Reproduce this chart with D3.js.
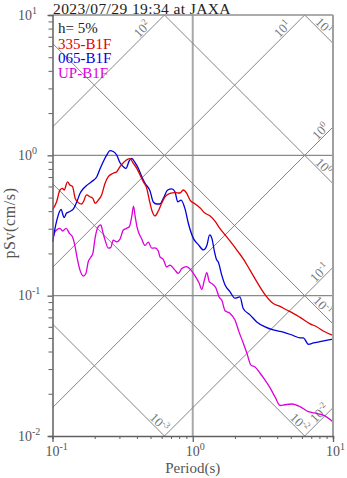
<!DOCTYPE html>
<html>
<head>
<meta charset="utf-8">
<script src="https://cdn.jsdelivr.net/npm/d3@7"></script>
<style>
  html, body { margin: 0; padding: 0; background: #fff; }
  svg { display: block; font-family: "Liberation Serif", "Times New Roman", serif; }
</style>
</head>
<body>
<svg id="chart" width="347" height="478"></svg>
<script>
// ---- data -------------------------------------------------------------
const chartTitle = "2023/07/29 19:34 at JAXA";
const dampingText = "h= 5%";
const seriesNames = ["335-B1F", "065-B1F", "UP-B1F"];

// pseudo velocity response spectra, period (s) vs pSv (cm/s)
const periods335 = [0.100,0.107,0.113,0.118,0.121,0.128,0.133,0.139,0.145,0.153,0.162,0.166,0.175,0.185,0.194,0.201,0.212,0.224,0.237,0.250,0.271,0.287,0.303,0.320,0.342,0.357,0.377,0.399,0.421,0.444,0.470,0.490,0.510,0.538,0.568,0.601,0.634,0.688,0.747,0.811,0.856,0.906,0.956,1.04,1.13,1.22,1.33,1.44,1.56,1.70,1.90,2.11,2.29,2.56,3.02,3.37,3.56,3.75,4.19,4.68,4.94,5.82,6.86,7.65,8.53,10.0];
const psv335 = [0.408,0.467,0.566,0.582,0.566,0.646,0.615,0.598,0.494,0.460,0.450,0.467,0.522,0.507,0.494,0.455,0.480,0.522,0.632,0.704,0.745,0.765,0.830,0.886,0.937,0.946,0.877,0.808,0.724,0.649,0.582,0.480,0.408,0.370,0.401,0.457,0.505,0.536,0.543,0.539,0.566,0.536,0.480,0.450,0.421,0.388,0.370,0.340,0.302,0.271,0.236,0.205,0.183,0.152,0.115,0.098,0.092,0.088,0.084,0.079,0.077,0.070,0.063,0.060,0.056,0.052];

const periods065 = [0.100,0.107,0.115,0.121,0.126,0.133,0.141,0.149,0.157,0.166,0.175,0.190,0.207,0.218,0.230,0.244,0.257,0.271,0.287,0.303,0.320,0.334,0.353,0.367,0.388,0.409,0.433,0.457,0.496,0.523,0.553,0.584,0.617,0.663,0.708,0.747,0.781,0.825,0.881,0.930,1.01,1.10,1.19,1.26,1.32,1.37,1.43,1.48,1.52,1.61,1.70,1.84,2.00,2.17,2.29,2.56,2.86,3.28,3.75,4.42,5.21,5.82,6.14,6.69,7.24,8.08,10.0];
const psv065 = [0.241,0.340,0.411,0.361,0.388,0.398,0.415,0.465,0.535,0.580,0.610,0.649,0.704,0.799,0.901,1.006,1.079,1.065,1.006,0.886,0.830,0.808,0.916,0.952,0.886,0.808,0.704,0.632,0.557,0.465,0.450,0.450,0.494,0.566,0.576,0.550,0.467,0.480,0.415,0.328,0.256,0.230,0.212,0.228,0.271,0.255,0.205,0.180,0.174,0.140,0.119,0.107,0.096,0.098,0.081,0.073,0.065,0.060,0.057,0.055,0.052,0.050,0.050,0.045,0.046,0.047,0.049];

const periodsUP = [0.100,0.104,0.108,0.113,0.118,0.125,0.132,0.139,0.145,0.150,0.157,0.166,0.173,0.180,0.187,0.194,0.201,0.212,0.221,0.228,0.237,0.250,0.260,0.271,0.287,0.303,0.320,0.338,0.353,0.367,0.378,0.388,0.402,0.433,0.457,0.482,0.510,0.538,0.568,0.584,0.617,0.652,0.688,0.747,0.789,0.834,0.906,0.972,1.04,1.11,1.16,1.21,1.26,1.31,1.38,1.46,1.54,1.61,1.70,1.84,2.00,2.14,2.29,2.43,2.60,2.78,3.02,3.28,3.56,3.86,4.19,4.55,5.08,5.82,6.67,7.65,8.77,10.0];
const psvUP = [0.245,0.284,0.296,0.302,0.289,0.302,0.278,0.262,0.223,0.185,0.152,0.138,0.144,0.175,0.187,0.200,0.256,0.310,0.319,0.286,0.249,0.218,0.220,0.249,0.242,0.253,0.294,0.302,0.310,0.365,0.435,0.370,0.304,0.253,0.228,0.241,0.218,0.219,0.208,0.189,0.181,0.160,0.165,0.152,0.144,0.156,0.161,0.152,0.138,0.123,0.111,0.129,0.146,0.126,0.121,0.114,0.098,0.093,0.078,0.075,0.067,0.055,0.046,0.039,0.032,0.031,0.028,0.025,0.022,0.019,0.0165,0.0167,0.0169,0.0162,0.0149,0.0145,0.0139,0.0126];

// constant spectral displacement (cm) and acceleration (cm/s^2) guides
const displacementLevels = [0.001, 0.01, 0.1, 1, 10];
const accelerationLevels = [0.01, 0.1, 1, 10, 100];

const periodDomain = [0.1, 10];
const psvDomain = [0.01, 10];
const periodMajorTicks = [0.1, 1, 10];
const psvMajorTicks = [0.01, 0.1, 1, 10];
const gridPeriods = [1];
const gridPsv = [0.1, 1];

// ---- layout -----------------------------------------------------------
const plotL = 52.5, plotR = 333, plotT = 15, plotB = 436;
const colors = ["#e00000", "#0000dc", "#dc00dc"];
const guideColor = "#858585";

const svg = d3.select("#chart");
const x = d3.scaleLog().domain(periodDomain).range([plotL, plotR]);
const y = d3.scaleLog().domain(psvDomain).range([plotB, plotT]);

// clip for plot content
svg.append("defs").append("clipPath").attr("id", "plotClip")
  .append("rect").attr("x", plotL).attr("y", plotT)
  .attr("width", plotR - plotL).attr("height", plotB - plotT);

const guides = svg.append("g").attr("clip-path", "url(#plotClip)");

// grid lines
gridPeriods.forEach(t => {
  guides.append("line").attr("x1", x(t)).attr("x2", x(t)).attr("y1", plotT).attr("y2", plotB)
    .attr("stroke", "#a8a8a8").attr("stroke-width", 2);
});
gridPsv.forEach(v => {
  guides.append("line").attr("x1", plotL).attr("x2", plotR).attr("y1", y(v)).attr("y2", y(v))
    .attr("stroke", "#8a8a8a").attr("stroke-width", 1.4);
});

// diagonal guides
const twoPi = 2 * Math.PI;
const guideLines = [];
displacementLevels.forEach(d => {
  const t0 = Math.max(periodDomain[0], twoPi * d / psvDomain[1]);
  const t1 = Math.min(periodDomain[1], twoPi * d / psvDomain[0]);
  if (t0 < t1) guideLines.push({kind: "disp", level: d,
    p0: [x(t0), y(twoPi * d / t0)], p1: [x(t1), y(twoPi * d / t1)],
    exit: t1 >= periodDomain[1] * 0.9999 ? "right" : "bottom"});
});
accelerationLevels.forEach(a => {
  const t0 = Math.max(periodDomain[0], twoPi * psvDomain[0] / a);
  const t1 = Math.min(periodDomain[1], twoPi * psvDomain[1] / a);
  if (t0 < t1) guideLines.push({kind: "acc", level: a,
    p0: [x(t0), y(a * t0 / twoPi)], p1: [x(t1), y(a * t1 / twoPi)],
    exit: t1 >= periodDomain[1] * 0.9999 ? "right" : "top"});
});

guideLines.forEach(g => {
  guides.append("line").attr("x1", g.p0[0]).attr("y1", g.p0[1])
    .attr("x2", g.p1[0]).attr("y2", g.p1[1])
    .attr("stroke", guideColor).attr("stroke-width", 1);
});

// guide labels, laid along each line near its end
const backOff = {acc: {top: 17, right: 3}, disp: {right: 10, bottom: 3}};
guideLines.forEach(g => {
  const dx = g.p1[0] - g.p0[0], dy = g.p1[1] - g.p0[1];
  const len = Math.hypot(dx, dy);
  const ux = dx / len, uy = dy / len;
  const s = backOff[g.kind][g.exit];
  const off = 1.5;
  const px = g.p1[0] - ux * s + uy * off;
  const py = g.p1[1] - uy * s - ux * off;
  const ang = Math.atan2(uy, ux) * 180 / Math.PI;
  const exp = Math.round(Math.log10(g.level));
  const t = svg.append("text")
    .attr("transform", `translate(${px},${py}) rotate(${ang})`)
    .attr("text-anchor", "end").attr("font-size", 13).attr("fill", "#777");
  t.append("tspan").text("10");
  t.append("tspan").attr("font-size", 9).attr("dy", -5).text(exp);
});

// spectra
const series = [
  {name: seriesNames[0], periods: periods335, values: psv335, color: colors[0]},
  {name: seriesNames[1], periods: periods065, values: psv065, color: colors[1]},
  {name: seriesNames[2], periods: periodsUP, values: psvUP, color: colors[2]}
];
const line = d3.line().x(d => x(d[0])).y(d => y(d[1])).curve(d3.curveMonotoneX);
const plot = svg.append("g").attr("clip-path", "url(#plotClip)");
series.slice().reverse().forEach(s => {
  plot.append("path").datum(d3.zip(s.periods, s.values))
    .attr("d", line).attr("fill", "none")
    .attr("stroke", s.color).attr("stroke-width", 1.3)
    .attr("stroke-linejoin", "round");
});

// frame: top and right in light gray, axes in darker gray
svg.append("line").attr("x1", plotL).attr("x2", plotR).attr("y1", plotT).attr("y2", plotT)
  .attr("stroke", "#909090").attr("stroke-width", 1.5);
svg.append("line").attr("x1", plotR).attr("x2", plotR).attr("y1", plotT).attr("y2", plotB)
  .attr("stroke", "#a0a0a0").attr("stroke-width", 2);

// axes
const minorTicks = (lo, hi) => {
  const out = [];
  for (let e = Math.round(Math.log10(lo)); e < Math.round(Math.log10(hi)); e++)
    for (let k = 1; k <= 9; k++) out.push(k * Math.pow(10, e));
  out.push(hi);
  return out;
};
const xAxis = d3.axisBottom(x).tickValues(minorTicks(...periodDomain))
  .tickSize(3).tickFormat("");
const yAxis = d3.axisLeft(y).tickValues(minorTicks(...psvDomain))
  .tickSize(4).tickFormat("");

const gx = svg.append("g").attr("transform", `translate(0,${plotB})`).call(xAxis);
const gy = svg.append("g").attr("transform", `translate(${plotL},0)`).call(yAxis);
[gx, gy].forEach(g => {
  g.select(".domain").attr("stroke", "#606060").attr("stroke-width", 1.5);
  g.selectAll(".tick line").attr("stroke", "#606060");
});
gx.selectAll(".tick line").filter(d => periodMajorTicks.some(m => Math.abs(d / m - 1) < 1e-6))
  .attr("y2", 6).attr("stroke-width", 1.3);
gy.selectAll(".tick line").filter(d => psvMajorTicks.some(m => Math.abs(d / m - 1) < 1e-6))
  .attr("x2", -5).attr("stroke-width", 1.3);

// tick labels as 10^n
const labelColor = "#555";
periodMajorTicks.forEach(t => {
  const e = Math.round(Math.log10(t));
  const tx = svg.append("text").attr("x", x(t) - 7).attr("y", 456)
    .attr("font-size", 14).attr("fill", labelColor);
  tx.append("tspan").text("10");
  tx.append("tspan").attr("font-size", 10).attr("dy", -6).text(e);
});
psvMajorTicks.forEach(v => {
  const e = Math.round(Math.log10(v));
  const tx = svg.append("text").attr("x", 18).attr("y", y(v) + 4.5)
    .attr("font-size", 14).attr("fill", labelColor);
  tx.append("tspan").text("10");
  tx.append("tspan").attr("font-size", 10).attr("dy", -6).text(e);
});

// axis titles
svg.append("text").attr("x", (plotL + plotR) / 2).attr("y", 472.5)
  .attr("text-anchor", "middle").attr("font-size", 15).attr("fill", labelColor)
  .text("Period(s)");
svg.append("text").attr("transform", `translate(15,223) rotate(-90)`)
  .attr("text-anchor", "middle").attr("font-size", 16).attr("fill", labelColor)
  .attr("letter-spacing", 0.6)
  .text("pSv(cm/s)");

// title
svg.append("text").attr("x", 53).attr("y", 13.8).attr("font-size", 15.5)
  .attr("letter-spacing", 0.4).attr("fill", "#222")
  .text(chartTitle);

// legend
const legend = svg.append("g").attr("font-size", 15);
legend.append("text").attr("x", 58).attr("y", 33).attr("fill", "#222").text(dampingText);
series.forEach((s, i) => {
  legend.append("text").attr("x", 58).attr("y", 48.5 + i * 14.7).attr("fill", s.color).text(s.name);
});
</script>
</body>
</html>
